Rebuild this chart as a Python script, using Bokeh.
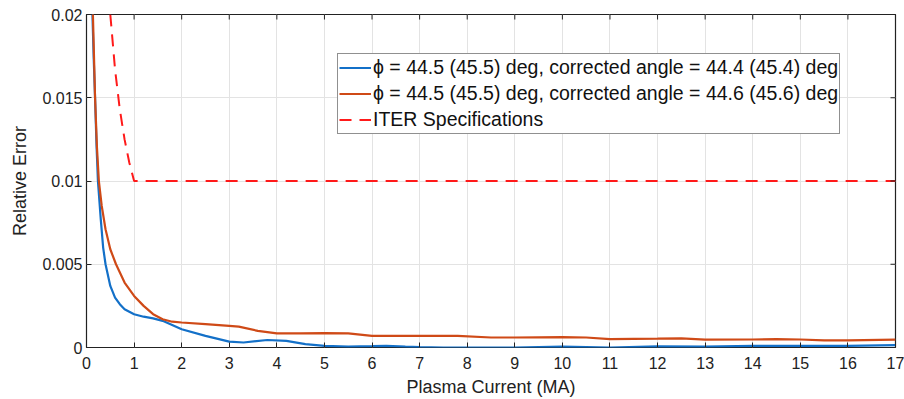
import math
from bokeh.plotting import figure
from bokeh.models import (Legend, LegendItem, FixedTicker, NumeralTickFormatter, Range1d)
from bokeh.embed import file_html
from bokeh.resources import INLINE

# ---- data ----
x_blue = [0.12, 0.15, 0.18, 0.21, 0.24, 0.3, 0.35, 0.4, 0.5, 0.6, 0.7, 0.8, 0.9, 1.0,
          1.2, 1.4, 1.6, 1.8, 2.0, 2.5, 3.0, 3.3, 3.8, 4.2, 4.6, 5.0, 5.5, 6.0, 6.3,
          6.7, 7.0, 7.5, 8.0, 9.0, 10.0, 11.0, 12.0, 13.0, 14.0, 15.0, 16.0, 17.0]
y_blue = [0.0205, 0.0175, 0.015, 0.0122, 0.0100, 0.0077, 0.0060, 0.0050, 0.0037,
          0.0030, 0.0026, 0.0023, 0.00215, 0.0020, 0.00185, 0.00175, 0.0016, 0.00135,
          0.0011, 0.0007, 0.00035, 0.0003, 0.00045, 0.0004, 0.0002, 0.0001, 0.00005,
          0.00008, 0.0001, 0.00005, 0.00002, 0.0, 0.0, 0.0, 0.00005, 0.0, 0.00007,
          0.00005, 0.0001, 0.0001, 0.0001, 0.00014]

x_red = [0.13, 0.18, 0.22, 0.26, 0.32, 0.4, 0.5, 0.62, 0.8, 1.0, 1.2, 1.4, 1.6, 1.8,
         2.0, 2.5, 3.0, 3.2, 3.6, 4.0, 4.5, 5.0, 5.5, 6.0, 7.0, 7.8, 8.5, 9.0, 10.0,
         10.5, 11.0, 12.0, 12.5, 13.0, 14.0, 14.5, 15.0, 15.5, 16.0, 17.0]
y_red = [0.0205, 0.015, 0.012, 0.0100, 0.0085, 0.0071, 0.0059, 0.0050, 0.0039, 0.0031,
         0.0025, 0.0020, 0.0017, 0.00155, 0.0015, 0.0014, 0.0013, 0.00125, 0.0010,
         0.00085, 0.00085, 0.00086, 0.00085, 0.0007, 0.0007, 0.0007, 0.0006, 0.0006,
         0.00062, 0.0006, 0.0005, 0.00053, 0.00055, 0.00047, 0.00048, 0.0005, 0.00048,
         0.00043, 0.00043, 0.00047]

x_spec = [0.5, 0.6, 0.7, 0.8, 0.9, 1.0, 17.0]
y_spec = [0.02, 0.0167, 0.0143, 0.0125, 0.0111, 0.01, 0.01]

x_ticks = list(range(0, 18))
y_ticks = [0, 0.005, 0.01, 0.015, 0.02]
x_min, x_max = 0, 17
y_min, y_max = 0, 0.02

label_blue = "\u03d5 = 44.5 (45.5) deg, corrected angle = 44.4 (45.4) deg"
label_red = "\u03d5 = 44.5 (45.5) deg, corrected angle = 44.6 (45.6) deg"
label_spec = "ITER Specifications"
x_title = "Plasma Current (MA)"
y_title = "Relative Error"

FONT = "Liberation Sans"
BLUE = "#1370c8"
RED = "#cf4a17"
INK = "#222222"

p = figure(width=904, height=399, output_backend="svg", toolbar_location=None,
           x_range=Range1d(x_min, x_max), y_range=Range1d(y_min, y_max),
           min_border_left=86, min_border_right=9, min_border_top=14,
           min_border_bottom=52)
p.outline_line_color = INK
p.outline_line_width = 1.2
p.background_fill_color = "white"
p.border_fill_color = "white"

p.xgrid.ticker = FixedTicker(ticks=x_ticks)
p.ygrid.ticker = FixedTicker(ticks=y_ticks)
p.grid.grid_line_color = "#e3e3e3"
p.grid.grid_line_width = 1

r_blue = p.line(x_blue, y_blue, line_color=BLUE, line_width=2.2)
r_red = p.line(x_red, y_red, line_color=RED, line_width=2.2)
r_spec = p.line(x_spec, y_spec, line_color="#ff1a1a", line_width=2, line_dash="12 8")

# box-style tick marks on the top and right edges (clipped to the frame)
p.scatter(x_ticks, [y_max] * len(x_ticks), marker="dash", size=10, angle=math.pi / 2,
          line_color=INK, line_width=1)
p.scatter([x_max] * len(y_ticks), y_ticks, marker="dash", size=10,
          line_color=INK, line_width=1)

for ax in (p.xaxis[0], p.yaxis[0]):
    ax.major_tick_in = 5
    ax.major_tick_out = 0
    ax.minor_tick_line_color = None
    ax.axis_line_color = None
    ax.major_tick_line_color = INK
    ax.major_label_text_font = FONT
    ax.major_label_text_font_size = "16px"
    ax.major_label_text_color = INK
    ax.axis_label_text_font = FONT
    ax.axis_label_text_font_size = "18px"
    ax.axis_label_text_font_style = "normal"
    ax.axis_label_text_color = INK

p.xaxis[0].ticker = FixedTicker(ticks=x_ticks)
p.yaxis[0].ticker = FixedTicker(ticks=y_ticks)
p.yaxis[0].formatter = NumeralTickFormatter(format="0.[000]")
p.xaxis[0].axis_label = x_title
p.yaxis[0].axis_label = y_title
p.xaxis[0].major_label_standoff = 9
p.xaxis[0].axis_label_standoff = 5
p.yaxis[0].major_label_standoff = 4
p.yaxis[0].axis_label_standoff = 9

legend = Legend(items=[LegendItem(label=label_blue, renderers=[r_blue]),
                       LegendItem(label=label_red, renderers=[r_red]),
                       LegendItem(label=label_spec, renderers=[r_spec])],
                location=(251, 213))
legend.label_text_font = FONT
legend.label_text_font_size = "19.5px"
legend.label_text_color = "#111111"
legend.glyph_width = 32
legend.glyph_height = 25
legend.label_height = 25
legend.label_standoff = 2
legend.spacing = 1
legend.padding = 1
legend.margin = 0
legend.border_line_color = INK
legend.border_line_width = 1
legend.background_fill_color = "white"
legend.background_fill_alpha = 1
p.add_layout(legend, "center")

open("out.html", "w").write(file_html(p, INLINE))
